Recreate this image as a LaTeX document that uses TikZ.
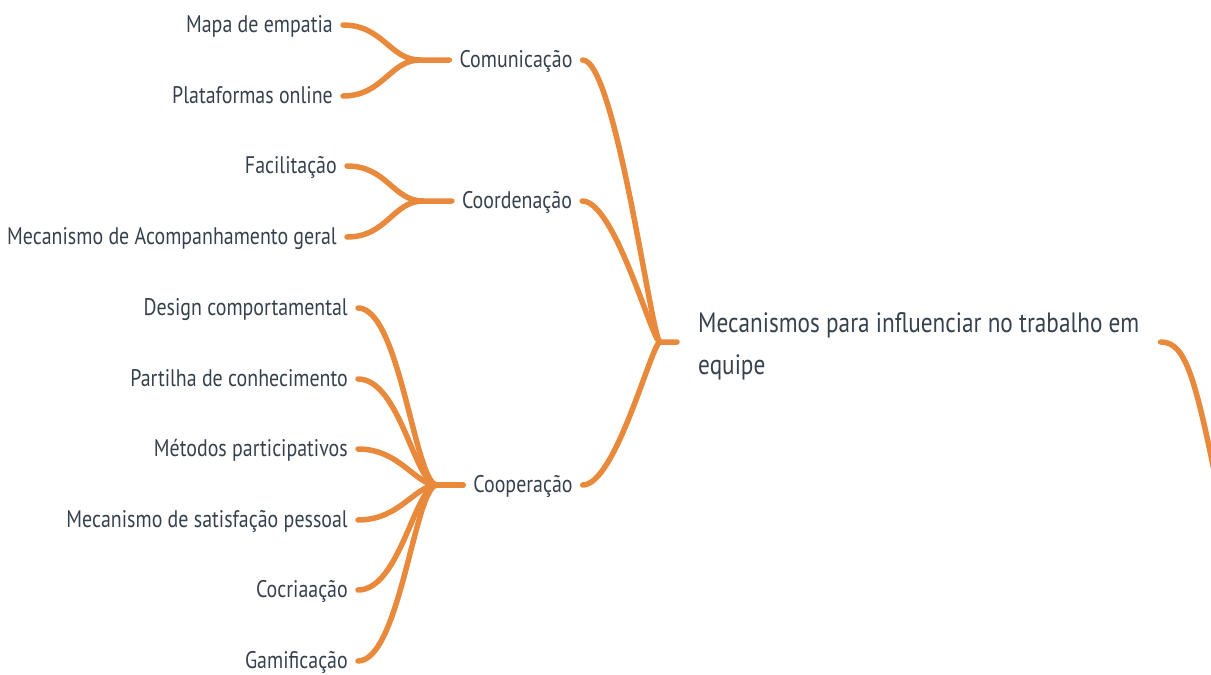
\documentclass[tikz,border=0pt]{standalone}
\usepackage{fontspec}
\setmainfont{PT Sans}[FakeStretch=0.83]
\definecolor{branch}{HTML}{E8893C}
\definecolor{txt}{HTML}{36414D}
\begin{document}
\begin{tikzpicture}[x=1pt,y=-1pt,
  lbl/.style={font=\fontsize{24}{28}\selectfont, text=txt, inner xsep=10pt, inner ysep=0pt, text height=20pt, text depth=5pt},
  leaf/.style={lbl, anchor=east},
  mid/.style={lbl},
  rootnode/.style={font=\fontsize{28}{42}\selectfont, text=txt, align=left, inner xsep=21pt, inner ysep=0pt, anchor=west},
  link/.style={draw=branch, line width=5.5pt, line cap=round, line join=round}]
\useasboundingbox (0,0) rectangle (1211,675);
\clip (0,0) rectangle (1211,675);
% root
\node[rootnode] (root) at (677,346) {Mecanismos para influenciar no trabalho em\\equipe};
\coordinate (rj) at (660,342);
\coordinate (off) at (1220,500);
% level 1
\node[mid] (com) at (516,60) {Comunicação};
\node[mid] (coo) at (517,201) {Coordenação};
\node[mid] (cop) at (523,485) {Cooperação};
\coordinate (jcom) at (420,60);
\coordinate (jcoo) at (423,201);
\coordinate (jcop) at (437,485);
% leaves
\node[leaf] (l1) at (343,25) {Mapa de empatia};
\node[leaf] (l2) at (343,96) {Plataformas online};
\node[leaf] (l3) at (347,166) {Facilitação};
\node[leaf] (l4) at (347,237) {Mecanismo de Acompanhamento geral};
\node[leaf] (c1) at (358,308) {Design comportamental};
\node[leaf] (c2) at (358,379) {Partilha de conhecimento};
\node[leaf] (c3) at (358,449) {Métodos participativos};
\node[leaf] (c4) at (358,520) {Mecanismo de satisfação pessoal};
\node[leaf] (c5) at (358,590) {Cocriaação};
\node[leaf] (c6) at (358,661) {Gamificação};
% root links
\draw[link] (com.east) .. controls +(33,0) and +(-8,0) .. (rj) -- (root.west |- rj);
\draw[link] (coo.east) .. controls +(33,0) and +(-8,0) .. (rj);
\draw[link] (cop.east) .. controls +(33,0) and +(-8,0) .. (rj);
\draw[link] (root.east |- rj) .. controls +(25,0) and (1195,375) .. (off);
% comunicação
\draw[link] (l1.east) .. controls +(40,0) and +(-30,0) .. (jcom) -- (com.west);
\draw[link] (l2.east) .. controls +(40,0) and +(-30,0) .. (jcom);
% coordenação
\draw[link] (l3.east) .. controls +(40,0) and +(-30,0) .. (jcoo) -- (coo.west);
\draw[link] (l4.east) .. controls +(40,0) and +(-30,0) .. (jcoo);
% cooperação
\foreach \c in {c1,c2,c3,c4,c5,c6}{
  \draw[link] (\c.east) .. controls +(42,0) and +(-22,0) .. (jcop);
}
\draw[link] (jcop) -- (cop.west);
\end{tikzpicture}
\end{document}
